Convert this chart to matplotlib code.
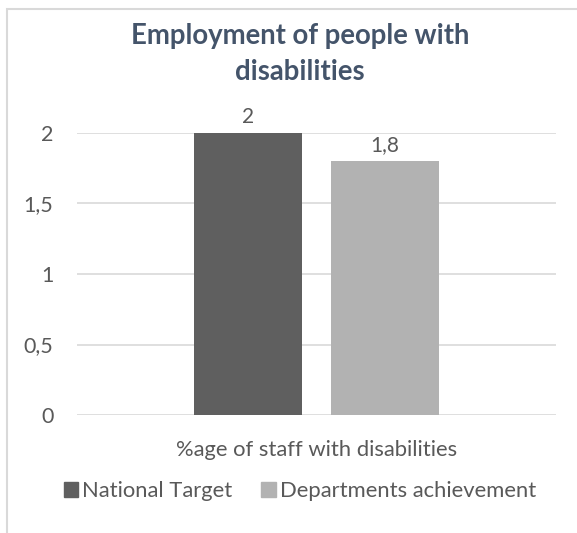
import matplotlib
matplotlib.use("Agg")
import matplotlib.pyplot as plt
from matplotlib.patches import Patch, Rectangle

categories = ["%age of staff with disabilities"]
series_names = ["National Target", "Departments achievement"]
national_target = [2.0]
dept_achievement = [1.8]
value_labels = [["2"], ["1,8"]]
yticks = [0, 0.5, 1, 1.5, 2]
ytick_labels = ["0", "0,5", "1", "1,5", "2"]

colors = ["#5f5f5f", "#b2b2b2"]
text_color = "#595959"
title_color = "#44546A"
font = "Lato"

W, H = 577, 533
fig = plt.figure(figsize=(W / 100, H / 100), dpi=100)

# outer chart border (cropped at right/bottom)
fig.patches.append(Rectangle((6.5 / W, -0.1), 1.2, (H - 8.5) / H + 0.1,
                             transform=fig.transFigure, fill=False,
                             edgecolor="#d9d9d9", linewidth=1.5))

ax = fig.add_axes([77 / W, (H - 415) / H, (556 - 77) / W, (415 - 133) / H])
ax.set_xlim(-0.5, 0.5)
ax.set_ylim(0, 2)

width = 0.226
offsets = [-0.143, 0.143]
for i, (vals, off) in enumerate(zip([national_target, dept_achievement], offsets)):
    xs = [j + off for j in range(len(categories))]
    bars = ax.bar(xs, vals, width=width, color=colors[i], zorder=3)
    for b, lab in zip(bars, value_labels[i]):
        ax.text(b.get_x() + b.get_width() / 2, b.get_height() + 0.045, lab,
                ha="center", va="bottom", fontsize=15, color=text_color,
                family=font)

ax.set_yticks(yticks)
ax.set_yticklabels(ytick_labels, fontsize=15.5, color=text_color, family=font)
ax.grid(axis="y", color="#d9d9d9", linewidth=1.2, zorder=0)
ax.set_xticks(range(len(categories)))
ax.set_xticklabels(categories, fontsize=15.8, color=text_color, family=font)
ax.tick_params(axis="y", length=0, pad=17)
ax.tick_params(axis="x", length=0, pad=18)
for s in ax.spines.values():
    s.set_visible(False)

fig.text(300 / W, 1 - 54 / H, "Employment of people with\ndisabilities",
         ha="center", va="center", fontsize=19.8, fontweight="bold",
         color=title_color, family=font, linespacing=1.45)

handles = [Patch(color=c) for c in colors]
fig.legend(handles, series_names, loc="center", bbox_to_anchor=(300 / W, 1 - 491 / H),
           ncol=2, frameon=False, handlelength=0.65, handleheight=0.65,
           handletextpad=0.2, columnspacing=1.3,
           prop={"family": font, "size": 15.8}, labelcolor=text_color)

fig.savefig("out.png", dpi=100)
